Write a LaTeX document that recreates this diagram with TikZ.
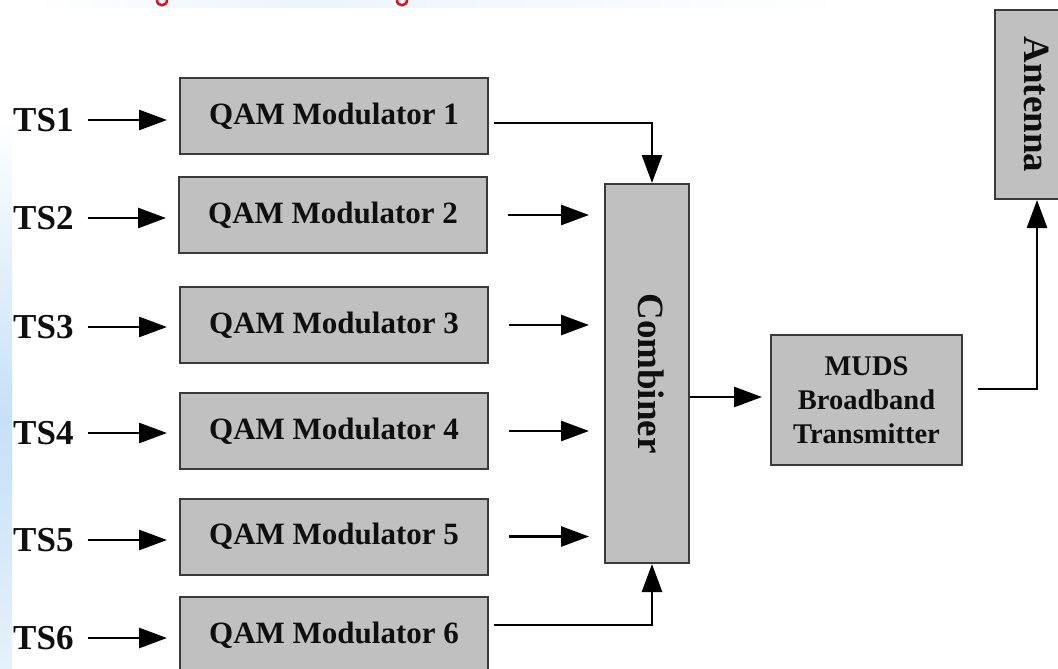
\documentclass[tikz,border=0pt]{standalone}
\usepackage{fontspec}
\usepackage{graphicx}
\setmainfont{Liberation Serif}
\usetikzlibrary{arrows.meta,calc}
\definecolor{boxfill}{RGB}{192,192,192}
\definecolor{boxline}{RGB}{58,58,58}
\definecolor{ink}{RGB}{15,15,15}
\definecolor{stripblue}{RGB}{198,224,246}
\definecolor{stripend}{RGB}{230,241,251}
\definecolor{bandblue}{RGB}{236,244,252}
\definecolor{titlered}{RGB}{214,20,30}
\begin{document}
\begin{tikzpicture}[x=1pt,y=-1pt,
  block/.style={draw=boxline, line width=2pt, fill=boxfill, text=ink, inner sep=0pt, align=center},
  qam/.style={block, minimum width=308pt, minimum height=76pt, font=\bfseries\fontsize{31}{34}\selectfont},
  tslabel/.style={text=ink, font=\bfseries\fontsize{35}{38}\selectfont, inner sep=0pt, anchor=west},
  arr/.style={draw=black, line width=2.8pt, -{Triangle[length=28pt,width=20pt]}},
]
\useasboundingbox (0,0) rectangle (1058,669);
\clip (0,0) rectangle (1058,669);
\fill[white] (0,0) rectangle (1058,669);
% slide background remnants
\shade[left color=white, right color=bandblue] (33,0) rectangle (300,8);
\shade[left color=bandblue, right color=white] (300,0) rectangle (850,8);
\shade[top color=white, bottom color=stripblue] (0,120) rectangle (12,420);
\shade[top color=stripblue, bottom color=stripend] (0,420) rectangle (12,669);
\draw[titlered, line width=2.5pt] (157,0) .. controls (157,7) and (167,7) .. (167,0);
\draw[titlered, line width=2.5pt] (397,0) .. controls (397,7) and (407,7) .. (407,0);

% input labels
\node[tslabel] (ts1) at (13,120) {TS1};
\node[tslabel] (ts2) at (13,218) {TS2};
\node[tslabel] (ts3) at (13,327) {TS3};
\node[tslabel] (ts4) at (13,433) {TS4};
\node[tslabel] (ts5) at (13,540) {TS5};
\node[tslabel] (ts6) at (13,638) {TS6};

% modulators
\node[qam] (q1) at (334,116) {QAM Modulator 1};
\node[qam] (q2) at (333,215) {QAM Modulator 2};
\node[qam] (q3) at (334,325) {QAM Modulator 3};
\node[qam] (q4) at (334,431) {QAM Modulator 4};
\node[qam] (q5) at (334,536.5) {QAM Modulator 5};
\node[qam] (q6) at (334,635) {QAM Modulator 6};

% combiner, transmitter, antenna
\node[block, minimum width=84pt, minimum height=379pt, font=\bfseries\fontsize{37}{40}\selectfont] (comb) at (647,373.5) {\hspace*{8pt}\rotatebox{-90}{Combiner}};
\node[block, minimum width=191pt, minimum height=130pt, font=\bfseries\fontsize{28.5}{34}\selectfont] (muds) at (866.5,400) {MUDS\\Broadband\\Transmitter};
\node[block, minimum width=84pt, minimum height=189pt, font=\bfseries\fontsize{37}{40}\selectfont] (ant) at (1037,104.5) {\rotatebox{-90}{Antenna}};

% input arrows
\foreach \i in {1,...,6}{
  \draw[arr, shorten <=14pt, shorten >=12pt] (ts\i.east) -- (ts\i.east -| q\i.west);
}

% modulator outputs
\foreach \i in {2,...,5}{
  \draw[arr, shorten <=20pt, shorten >=15pt] (q\i.east) -- (q\i.east -| comb.west);
}
\draw[arr] ($(q1.east)+(5,7)$) -| ($(comb.north)+(5,0)$);
\draw[arr] ($(q6.east)+(5,-10)$) -| ($(comb.south)+(5,0)$);

% combiner to transmitter to antenna
\draw[arr, shorten >=8pt] ([yshift=3pt]muds.west -| comb.east) -- ([yshift=3pt]muds.west);
\draw[arr] ([xshift=15pt,yshift=11pt]muds.east) -| (ant.south);
\end{tikzpicture}
\end{document}
